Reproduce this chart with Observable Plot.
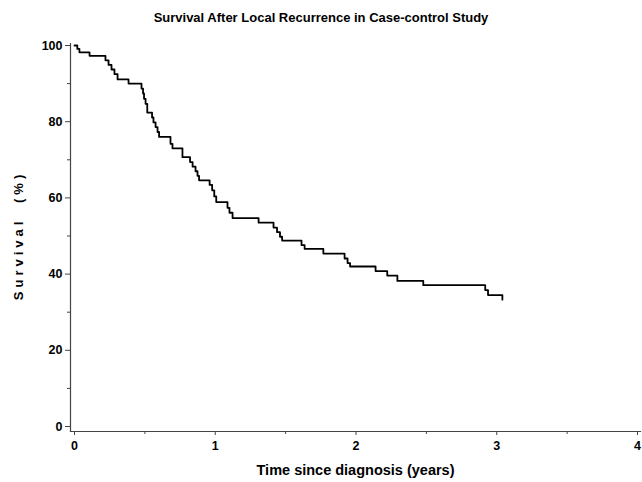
<!DOCTYPE html>
<html>
<head>
<meta charset="utf-8">
<script src="https://cdn.jsdelivr.net/npm/d3@7"></script>
<script src="https://cdn.jsdelivr.net/npm/@observablehq/plot@0.6"></script>
<style>
  body { margin: 0; background: white; }
  #title { width: 642px; height: 19px; padding-top: 11px; text-align: center; font: bold 13px "Liberation Sans", Arial, sans-serif; line-height: 14px; color: #000; }
</style>
</head>
<body>
<div id="title">Survival After Local Recurrence in Case-control Study</div>
<div id="chart"></div>
<script>
const titleText = "Survival After Local Recurrence in Case-control Study";
const xLabel = "Time since diagnosis (years)";
const yLabel = "Survival (%)";

// Kaplan-Meier step points (time in years, survival %)
const times = [0, 0.02, 0.035, 0.107, 0.22, 0.242, 0.263, 0.284, 0.306, 0.384,
  0.476, 0.487, 0.494, 0.505, 0.517, 0.551, 0.561, 0.576, 0.590, 0.601,
  0.682, 0.696, 0.767, 0.821, 0.839, 0.860, 0.874, 0.885, 0.960, 0.978,
  0.993, 1.007, 1.087, 1.101, 1.123, 1.308, 1.414, 1.439, 1.460, 1.475,
  1.613, 1.635, 1.768, 1.919, 1.940, 1.958, 2.139, 2.222, 2.294, 2.478,
  2.918, 2.938, 3.04];
const survival = [100, 99.1, 98.2, 97.3, 96.1, 94.9, 93.7, 92.5, 91.1, 90.0,
  88.7, 87.4, 86.0, 84.7, 82.4, 81.1, 79.8, 78.6, 77.3, 76.0,
  74.2, 73.0, 70.7, 69.4, 68.2, 67.0, 65.8, 64.6, 63.4, 62.0,
  60.4, 58.9, 57.4, 56.1, 54.7, 53.5, 52.2, 51.0, 49.8, 48.8,
  47.6, 46.6, 45.4, 44.1, 42.9, 42.0, 40.8, 39.6, 38.2, 37.1,
  35.8, 34.5, 33.3];

const xMajor = [0, 1, 2, 3, 4];
const xMinor = [0.5, 1.5, 2.5, 3.5];
const yMajor = [0, 20, 40, 60, 80, 100];
const yMinor = [10, 30, 50, 70, 90];

const data = times.map((t, i) => ({t, s: survival[i]}));

const plot = Plot.plot({
  width: 642,
  height: 452,
  marginTop: 13,
  marginBottom: 51,
  marginLeft: 70,
  marginRight: 2,
  insetTop: 2,
  insetBottom: 5,
  insetLeft: 4,
  insetRight: 3,
  x: {domain: [0, 4], label: null},
  y: {domain: [0, 100], label: null},
  style: {fontFamily: "'Liberation Sans', Arial, sans-serif", fontSize: "12.5px", fontWeight: "bold", color: "black", background: "white", overflow: "visible"},
  marks: [
    Plot.frame({anchor: "left", stroke: "#444", strokeWidth: 1.2}),
    Plot.frame({anchor: "bottom", stroke: "#444", strokeWidth: 1.2}),
    Plot.axisX(xMajor, {tickSize: 4, tickPadding: 6, tickFormat: d3.format("d"), label: null, stroke: "#444"}),
    Plot.axisX(xMinor, {tickSize: 3, tickFormat: () => "", label: null, stroke: "#444"}),
    Plot.axisY(yMajor, {tickSize: 5, tickPadding: 3, tickFormat: d3.format("d"), label: null, stroke: "#444"}),
    Plot.axisY(yMinor, {tickSize: 3, tickFormat: () => "", label: null, stroke: "#444"}),
    Plot.line(data, {x: "t", y: "s", curve: "step-after", stroke: "black", strokeWidth: 1.8}),
    Plot.text([xLabel], {frameAnchor: "bottom", dy: 43, fontSize: 14.5, fontWeight: "bold"}),
    Plot.text([yLabel], {frameAnchor: "left", textAnchor: "middle", rotate: -90, dx: -52, fontSize: 13, fontWeight: "bold"})
  ]
});

d3.select(plot).selectAll("text")
  .filter(function() { return this.textContent === yLabel; })
  .attr("letter-spacing", "4px")
  .attr("word-spacing", "7px")
  .attr("dx", "2px");

document.getElementById("chart").appendChild(plot);
</script>
</body>
</html>
